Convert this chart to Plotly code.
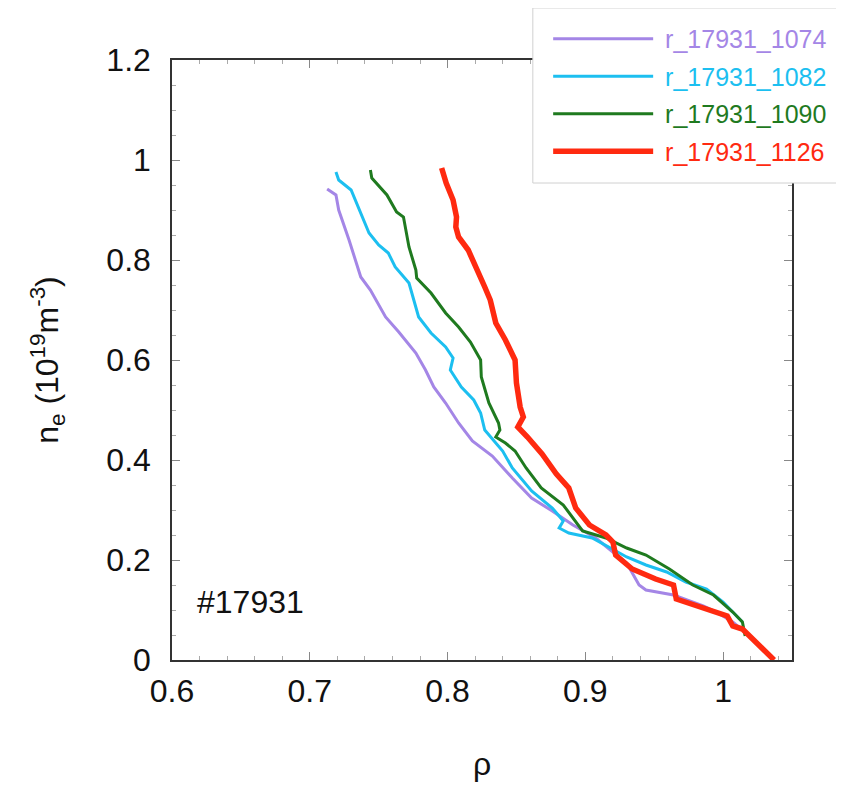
import plotly.graph_objects as go

rho_1074 = [0.7126, 0.719, 0.721, 0.7285, 0.737, 0.744, 0.755, 0.7646, 0.777, 0.784, 0.79, 0.7986,
            0.808, 0.818, 0.8325, 0.847, 0.861, 0.876, 0.891, 0.9076, 0.92, 0.93, 0.939, 0.944,
            0.964, 0.9856, 0.995, 1.007, 1.013]
ne_1074 = [0.942, 0.93, 0.90, 0.84, 0.766, 0.74, 0.686, 0.656, 0.614, 0.58, 0.546, 0.514,
           0.474, 0.438, 0.408, 0.364, 0.324, 0.298, 0.27, 0.244, 0.216, 0.194, 0.15, 0.14,
           0.13, 0.108, 0.096, 0.076, 0.062]

rho_1082 = [0.719, 0.721, 0.73, 0.737, 0.743, 0.75, 0.757, 0.762, 0.772, 0.779, 0.788, 0.7986,
            0.804, 0.802, 0.81, 0.819, 0.824, 0.827, 0.84, 0.847, 0.861, 0.876, 0.884, 0.881,
            0.888, 0.905, 0.9177, 0.93, 0.944, 0.959, 0.973, 0.988, 1.0, 1.01, 1.014]
ne_1082 = [0.976, 0.96, 0.94, 0.894, 0.854, 0.83, 0.814, 0.786, 0.754, 0.686, 0.654, 0.626,
           0.604, 0.58, 0.546, 0.52, 0.494, 0.46, 0.418, 0.384, 0.338, 0.304, 0.278, 0.264,
           0.254, 0.244, 0.224, 0.206, 0.19, 0.176, 0.156, 0.142, 0.116, 0.088, 0.076]

rho_1090 = [0.744, 0.745, 0.756, 0.763, 0.768, 0.772, 0.777, 0.7776, 0.788, 0.7986, 0.808, 0.8166,
            0.824, 0.8245, 0.83, 0.837, 0.838, 0.835, 0.842, 0.849, 0.857, 0.868, 0.884, 0.893,
            0.898, 0.915, 0.93, 0.944, 0.961, 0.978, 0.993, 1.007, 1.014, 1.016]
ne_1090 = [0.98, 0.964, 0.93, 0.896, 0.886, 0.826, 0.78, 0.764, 0.734, 0.694, 0.666, 0.636,
           0.6, 0.566, 0.514, 0.474, 0.46, 0.446, 0.434, 0.418, 0.384, 0.344, 0.31, 0.278,
           0.258, 0.244, 0.224, 0.21, 0.182, 0.15, 0.13, 0.096, 0.076, 0.048]

rho_1126 = [0.7957, 0.799, 0.804, 0.8065, 0.806, 0.808, 0.815, 0.821, 0.827, 0.831, 0.835, 0.842,
            0.849, 0.85, 0.8527, 0.855, 0.851, 0.858, 0.8686, 0.879, 0.888, 0.893, 0.903, 0.915,
            0.92, 0.922, 0.934, 0.951, 0.964, 0.966, 0.973, 0.988, 1.003, 1.007, 1.014, 1.037]
ne_1126 = [0.984, 0.954, 0.92, 0.886, 0.866, 0.846, 0.82, 0.786, 0.746, 0.72, 0.674, 0.64,
           0.6, 0.554, 0.506, 0.486, 0.466, 0.446, 0.412, 0.372, 0.344, 0.304, 0.27, 0.25,
           0.236, 0.21, 0.182, 0.162, 0.15, 0.122, 0.116, 0.102, 0.088, 0.068, 0.062, 0.0]

series = [
    ("r_17931_1074", rho_1074, ne_1074, "#a486e6", 3),
    ("r_17931_1082", rho_1082, ne_1082, "#1cbff0", 3),
    ("r_17931_1090", rho_1090, ne_1090, "#1f7a1f", 3),
    ("r_17931_1126", rho_1126, ne_1126, "#ff2a10", 5.5),
]

x_ticks = [0.6, 0.7, 0.8, 0.9, 1.0]
x_tick_text = ["0.6", "0.7", "0.8", "0.9", "1"]
y_ticks = [0, 0.2, 0.4, 0.6, 0.8, 1.0, 1.2]
y_tick_text = ["0", "0.2", "0.4", "0.6", "0.8", "1", "1.2"]

FONT = "Liberation Sans, Arial, Helvetica, sans-serif"

fig = go.Figure()
for i, (name, xs, ys, color, w) in enumerate(series):
    fig.add_trace(go.Scatter(
        x=xs, y=ys, mode="lines",
        name=f"<span style='color:{color}'> {name}</span>",
        legendgroup=f"g{i}",
        line=dict(color=color, width=w),
    ))

axis_common = dict(
    showgrid=False, zeroline=False,
    showline=True, linecolor="#333333", linewidth=1.5, mirror="allticks",
    ticks="inside", ticklen=8, tickcolor="#888888", tickwidth=1,
    tickfont=dict(family=FONT, size=32, color="#111111"),
)

fig.update_xaxes(
    range=[0.6, 1.05], tickmode="array", tickvals=x_ticks, ticktext=x_tick_text,
    minor=dict(dtick=0.02, ticks="inside", ticklen=4, tickcolor="#aaaaaa", showgrid=False),
    title=dict(text="ρ", font=dict(family=FONT, size=32, color="#111111"), standoff=44),
    ticklabelstandoff=2,
    **axis_common,
)
fig.update_yaxes(
    range=[0, 1.2], tickmode="array", tickvals=y_ticks, ticktext=y_tick_text,
    minor=dict(dtick=0.05, ticks="inside", ticklen=4, tickcolor="#aaaaaa", showgrid=False),
    title=dict(text="n<sub>e</sub> (10<sup>19</sup>m<sup>-3</sup>)",
               font=dict(family=FONT, size=32, color="#111111"), standoff=38),
    ticklabelstandoff=13,
    **axis_common,
)

fig.add_annotation(x=0.6166, y=0.116, xref="x", yref="y", text="#17931",
                   showarrow=False, xanchor="left", yanchor="middle",
                   font=dict(family=FONT, size=32, color="#111111"))

# legend frame
fig.add_shape(type="rect", xref="paper", yref="paper",
              x0=0.582, x1=1.11, y0=0.795, y1=1.0867,
              line=dict(color="#d0d0d0", width=1), fillcolor="white", layer="above")

fig.update_layout(
    width=844, height=789,
    margin=dict(l=164, r=60, t=52, b=137, autoexpand=False),
    plot_bgcolor="white", paper_bgcolor="white",
    showlegend=True,
    legend=dict(xref="container", yref="container", x=0.640, y=0.99,
                xanchor="left", yanchor="top",
                bgcolor="rgba(0,0,0,0)", borderwidth=0,
                font=dict(family=FONT, size=25), itemwidth=100,
                tracegroupgap=2),
)

fig.write_html("out.html")
